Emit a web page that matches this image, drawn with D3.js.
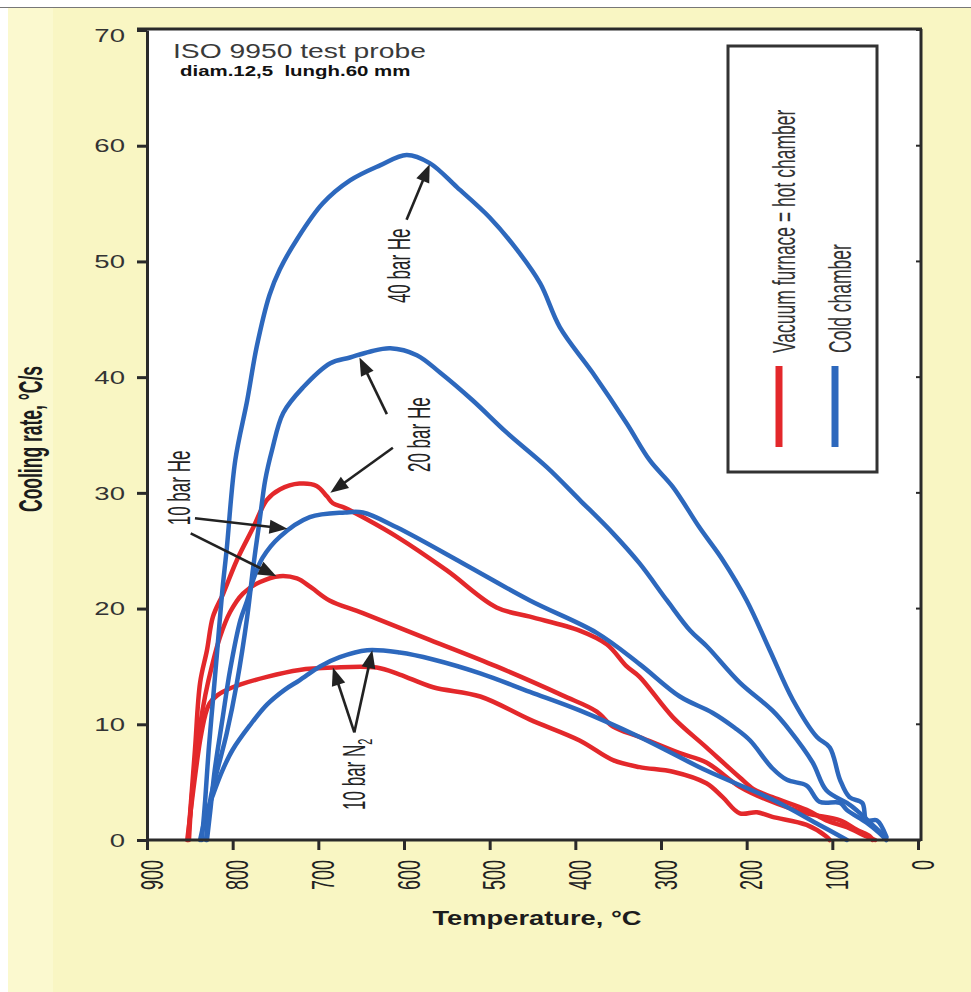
<!DOCTYPE html>
<html lang="en">
<head>
<meta charset="UTF-8">
<title>Cooling rate vs temperature – ISO 9950 probe</title>
<script src="https://d3js.org/d3.v7.min.js"></script>
<style>
  body { margin: 0; background: #fff; }
  svg { display: block; font-family: "Liberation Sans", Arial, sans-serif; }
  text { white-space: pre; }
</style>
</head>
<body>
<svg id="chart" width="971" height="992"></svg>
<script>
// axis ticks
const xTicks = [900, 800, 700, 600, 500, 400, 300, 200, 100, 0];
const yTicks = [0, 10, 20, 30, 40, 50, 60, 70];

// curves, [temperature °C, cooling rate °C/s]
// cold chamber (blue)
const he40Cold = [[836,0],[832,3.5],[828,7.8],[823,12.1],[818,16.4],[812,21.6],[807,25.1],[797,32.8],[783,38.0],[772,42.6],[757,47.1],[745,49.3],[725,51.9],[695,55.0],[663,57.0],[628,58.3],[597,59.2],[570,58.5],[538,56.4],[500,53.8],[468,51.0],[441,48.1],[418,44.3],[380,40.4],[340,36.0],[313,32.8],[286,30.5],[255,27.0],[228,24.2],[200,20.7],[173,16.4],[146,12.1],[118,8.9],[103,8.0],[91,5.2],[80,3.7],[65,3.2],[60,1.7],[48,1.7],[37,0.3]];
const he20Cold = [[831,0],[826,3.5],[818,6.0],[807,9.2],[795,13.6],[783,19.3],[776,23.6],[768,27.9],[762,31.1],[754,33.7],[741,36.9],[718,39.1],[686,41.2],[663,41.7],[640,42.2],[616,42.5],[585,41.9],[558,40.4],[520,38.0],[480,35.2],[433,32.2],[395,29.4],[356,26.5],[325,23.9],[293,20.7],[266,18.1],[246,16.7],[208,13.6],[170,11.2],[150,9.5],[123,6.7],[107,4.3],[83,3.2],[72,2.6],[56,1.5],[37,0.2]];
const he10Cold = [[830,0],[826,2.6],[821,6.0],[812,10.4],[803,14.7],[791,19.0],[783,20.7],[776,22.5],[765,24.4],[745,26.2],[710,27.9],[669,28.3],[648,28.3],[608,27.0],[531,23.9],[453,20.7],[375,17.9],[325,15.2],[278,12.4],[240,11.0],[214,9.7],[196,8.6],[170,6.2],[153,5.2],[130,4.7],[115,3.3],[91,3.2],[83,2.6],[60,1.5],[45,0.6],[37,0]];
const n2Cold = [[838,0],[831,2.2],[823,3.9],[812,6.0],[800,7.8],[780,9.9],[760,11.7],[739,13.0],[722,13.8],[698,15.0],[675,15.8],[643,16.4],[605,16.2],[566,15.6],[511,14.4],[453,12.8],[395,11.2],[325,8.9],[247,6.0],[170,3.5],[115,1.3],[83,0]];
// vacuum furnace = hot chamber (red)
const he20Hot = [[852,0],[850,2.0],[844,7.8],[838,13.6],[830,16.4],[823,19.3],[811,21.3],[795,24.2],[776,27.0],[760,29.4],[745,30.3],[722,30.8],[702,30.6],[690,29.7],[683,29.1],[669,28.7],[643,27.7],[608,26.2],[550,23.3],[492,20.1],[453,19.3],[395,18.1],[363,16.9],[340,15.0],[325,14.1],[286,10.6],[247,8.0],[208,5.4],[192,4.4],[170,3.7],[130,2.6],[107,1.7],[83,1.1],[60,0.3],[50,0]];
const he10Hot = [[851,0],[848,3.5],[843,6.9],[838,9.9],[832,12.5],[824,15.1],[815,17.5],[803,19.7],[788,21.3],[768,22.3],[745,22.8],[725,22.6],[708,21.8],[687,20.7],[648,19.6],[570,17.3],[492,15.0],[415,12.5],[375,11.1],[356,9.8],[325,8.9],[278,7.5],[247,6.7],[208,4.6],[177,3.5],[130,2.3],[91,1.7],[72,0.9],[56,0.3],[53,0]];
const n2Hot = [[853,0],[846,4.3],[838,8.6],[832,10.8],[827,11.8],[818,12.5],[800,13.2],[760,14.1],[722,14.7],[683,14.9],[632,14.9],[605,14.3],[566,13.2],[511,12.4],[453,10.4],[395,8.6],[356,6.9],[325,6.3],[286,5.9],[247,4.9],[228,3.7],[208,2.3],[188,2.4],[170,2.0],[130,1.3],[107,0.3],[103,0]];

const hotCurves = [n2Hot, he10Hot, he20Hot];
const coldCurves = [n2Cold, he10Cold, he20Cold, he40Cold];

// annotation arrows: [tail, tip] in data units
const arrows = [
  [[597, 53.6], [570, 58.4]],
  [[620, 36.8], [652, 41.7]],
  [[613, 33.9], [686, 30.0]],
  [[844, 27.8], [736, 26.9]],
  [[849, 26.5], [749, 22.8]],
  [[658, 9.3], [683, 14.9]],
  [[658, 9.3], [637, 16.4]]
];
const notes = [
  { text: "40 bar He", at: [593, 46.4] },
  { text: "20 bar He", at: [570, 31.8] },
  { text: "10 bar He", at: [850, 27.2] },
  { text: "10 bar N", sub: "2", at: [646, 2.6] }
];
const legendItems = ["Vacuum furnace = hot chamber", "Cold chamber"];

const RED = "#e3282b", BLUE = "#2d68bd", INK = "#2a2a2a";

const svg = d3.select("#chart");
const x = d3.scaleLinear().domain([900, 0]).range([147, 918]);
const y = d3.scaleLinear().domain([0, 70]).range([840, 30]);

// paper
svg.append("rect").attr("x", 8).attr("y", 8).attr("width", 963).attr("height", 984).attr("fill", "#f9f6c3");
svg.append("rect").attr("x", 8).attr("y", 8).attr("width", 45).attr("height", 984).attr("fill", "#fbf9cf");
svg.append("line").attr("x1", 0).attr("x2", 971).attr("y1", 7.5).attr("y2", 7.5).attr("stroke", "#777").attr("stroke-width", 1);
svg.append("rect").attr("x", 147).attr("y", 29).attr("width", 774).attr("height", 811).attr("fill", "#fff");

// text helpers (the scan is stretched sideways, so glyphs get a scale)
function htext(g, px, py, str, size, sx, anchor, weight, fill) {
  return g.append("text")
    .attr("transform", `translate(${px},${py}) scale(${sx},1)`)
    .attr("font-size", size).attr("text-anchor", anchor)
    .attr("font-weight", weight).attr("fill", fill).text(str);
}
function vtext(g, px, py, str, size, sx, anchor, weight, fill) {
  return g.append("text")
    .attr("transform", `translate(${px},${py}) scale(${sx},1) rotate(-90)`)
    .attr("font-size", size).attr("text-anchor", anchor)
    .attr("font-weight", weight).attr("fill", fill).text(str);
}

// curves
const line = d3.line().x(d => x(d[0])).y(d => y(d[1])).curve(d3.curveCatmullRom.alpha(0.5));
const plot = svg.append("g").attr("fill", "none").attr("stroke-width", 4.5)
  .attr("stroke-linejoin", "round").attr("stroke-linecap", "round");
plot.selectAll("path.hot").data(hotCurves).join("path").attr("class", "hot")
  .attr("d", line).attr("stroke", RED);
plot.selectAll("path.cold").data(coldCurves).join("path").attr("class", "cold")
  .attr("d", line).attr("stroke", BLUE);

// axes and frame
const yAxis = svg.append("g").attr("transform", "translate(147,0)")
  .call(d3.axisLeft(y).tickValues(yTicks).tickSize(10).tickSizeOuter(0).tickFormat(""));
const xAxis = svg.append("g").attr("transform", "translate(0,840)")
  .call(d3.axisBottom(x).tickValues(xTicks).tickSize(10).tickSizeOuter(0).tickFormat(""));
[yAxis, xAxis].forEach(a => {
  a.selectAll("path, line").attr("stroke", INK).attr("stroke-width", 3);
});
xAxis.select(".domain").attr("d", "M147,0H921");
svg.append("line").attr("x1", 137).attr("x2", 922).attr("y1", 29).attr("y2", 29).attr("stroke", INK).attr("stroke-width", 3);
svg.append("line").attr("x1", 921).attr("x2", 921).attr("y1", 29).attr("y2", 841).attr("stroke", INK).attr("stroke-width", 3);
svg.append("g").selectAll("line").data(yTicks).join("line")
  .attr("x1", 916).attr("x2", 921).attr("y1", d => y(d)).attr("y2", d => y(d))
  .attr("stroke", INK).attr("stroke-width", 2);

// tick labels
yTicks.forEach(v => htext(svg, 125, Math.max(y(v), 35), String(v), 19, 1.45, "end", "normal", "#333").attr("dy", "0.35em"));
xTicks.forEach(v => vtext(svg, x(v) + 5, 860, String(v), 18, 1.7, "end", "normal", "#222").attr("dy", "0.35em"));

// axis titles
vtext(svg, 42, 439, "Cooling rate, \u00b0C/s", 17.5, 1.85, "middle", "bold", "#1c1c1c");
htext(svg, 537, 925, "Temperature, \u00b0C", 21, 1.3, "middle", "bold", "#1c1c1c");

// heading
htext(svg, 173, 58, "ISO 9950 test probe", 19.5, 1.45, "start", "normal", "#3a3a3a");
htext(svg, 180, 76, "diam.12,5  lungh.60 mm", 14, 1.46, "start", "bold", "#111");

// legend
svg.append("rect").attr("x", 728).attr("y", 46).attr("width", 149).attr("height", 426)
  .attr("fill", "none").attr("stroke", "#333").attr("stroke-width", 3);
const legColors = [RED, BLUE];
legendItems.forEach((t, i) => {
  const cx = 779 + i * 56;
  svg.append("line").attr("x1", cx).attr("x2", cx).attr("y1", 366).attr("y2", 447)
    .attr("stroke", legColors[i]).attr("stroke-width", 7);
  vtext(svg, cx + 16, 353, t, 17.5, 1.83, "start", "normal", "#333");
});

// annotations
const ann = svg.append("g");
arrows.forEach(([from, to]) => {
  const qx = x(from[0]), qy = y(from[1]), px = x(to[0]), py = y(to[1]);
  const len = Math.hypot(px - qx, py - qy), ux = (px - qx) / len, uy = (py - qy) / len;
  const L = 18, w = 7, bx = px - ux * L, by = py - uy * L;
  ann.append("line").attr("x1", qx).attr("y1", qy).attr("x2", bx + ux * 2).attr("y2", by + uy * 2)
    .attr("stroke", "#222").attr("stroke-width", 2.6);
  ann.append("path")
    .attr("d", `M${px},${py}L${bx - uy * w},${by + ux * w}L${bx + uy * w},${by - ux * w}Z`)
    .attr("fill", "#222");
});
notes.forEach(n => {
  const t = vtext(ann, x(n.at[0]), y(n.at[1]), n.text, 17, 1.8, "start", "normal", "#222");
  if (n.sub) t.append("tspan").attr("font-size", 11).attr("dy", 4).text(n.sub);
});
</script>
</body>
</html>
